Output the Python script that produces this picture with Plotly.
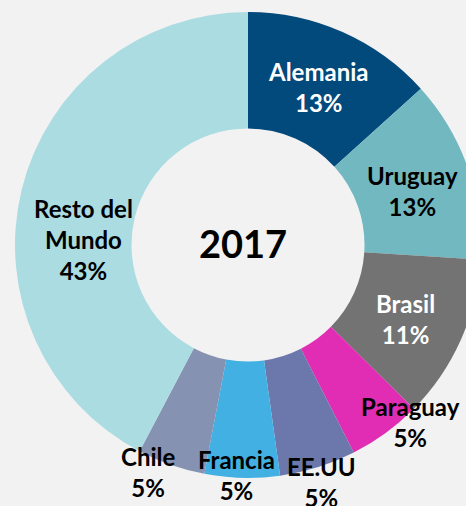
import plotly.graph_objects as go

# ---- data ----
countries = ["Alemania", "Uruguay", "Brasil", "Paraguay", "EE.UU", "Francia", "Chile", "Resto del<br>Mundo"]
shares = [13.3, 12.7, 11.4, 5.1, 5.3, 5.2, 4.7, 42.3]
pct_labels = ["13%", "13%", "11%", "5%", "5%", "5%", "5%", "43%"]
center_title = "2017"

# ---- style ----
colors = ["#02497C", "#72B8C1", "#737373", "#E02DB3", "#6C78AC", "#42B0E2", "#8592B2", "#AADCE2"]
text_colors = ["white", "black", "white", "black", "black", "black", "black", "black"]
BG = "#F2F2F2"
FONT = "Lato"
W, H = 481, 506
# label anchor positions in pixels (from top-left)
label_px = [(318, 87), (412, 191), (405, 319), (410, 422), (321, 482), (236, 475), (148, 472), (83, 240)]

fig = go.Figure()
fig.add_trace(go.Pie(
    labels=countries,
    values=shares,
    hole=0.5,
    sort=False,
    direction="clockwise",
    rotation=0,
    marker=dict(colors=colors, line=dict(width=0)),
    textinfo="none",
    hoverinfo="label+percent",
    showlegend=False,
    domain=dict(x=[15 / W, 1], y=[1 - 478 / H, 1 - 12 / H]),
))

for name, pct, (px, py), tc in zip(countries, pct_labels, label_px, text_colors):
    fig.add_annotation(
        x=px / W, y=1 - py / H, xref="paper", yref="paper",
        text=f"{name}<br>{pct}", showarrow=False,
        xanchor="center", yanchor="middle",
        font=dict(family=FONT, size=24, color=tc, weight="bold"),
    )

fig.add_annotation(
    x=243 / W, y=1 - 243 / H, xref="paper", yref="paper",
    text=center_title, showarrow=False, xanchor="center", yanchor="middle",
    font=dict(family=FONT, size=38, color="black", weight="bold"),
)

fig.update_layout(
    width=W, height=H,
    margin=dict(l=0, r=0, t=0, b=0),
    paper_bgcolor=BG, plot_bgcolor=BG,
)
fig.write_html(
    "out.html",
    config={"displayModeBar": False},
    post_script="document.body.style.margin='0';document.body.style.overflow='hidden';"
                "document.body.style.background='#F2F2F2';",
)
